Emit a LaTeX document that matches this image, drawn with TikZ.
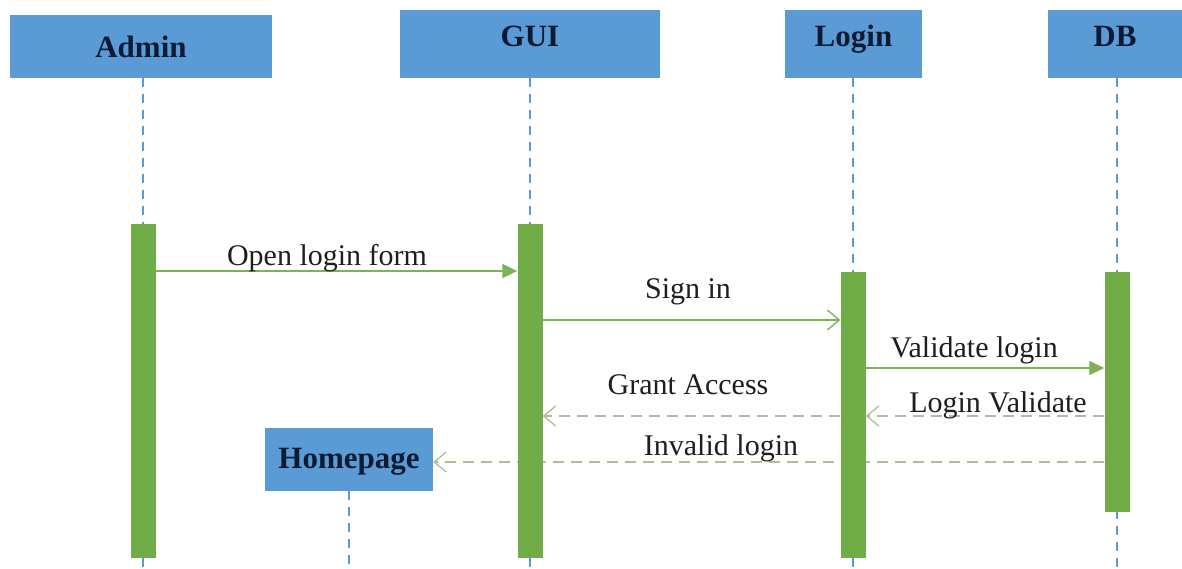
\documentclass[tikz,border=0pt]{standalone}
\usepackage{fontspec}
\setmainfont{Liberation Serif}
\usetikzlibrary{arrows.meta}
\definecolor{boxblue}{HTML}{5B9BD5}
\definecolor{bargreen}{HTML}{70AD47}
\definecolor{msggreen}{HTML}{7DB356}
\definecolor{dashgreen}{HTML}{ADBF9A}
\definecolor{navy}{HTML}{0E1A33}
\definecolor{lbltext}{HTML}{1E1E1E}
\pgfdeclarelayer{back}
\pgfdeclarelayer{mid}
\pgfsetlayers{back,mid,main}
\begin{document}
\begin{tikzpicture}[x=1pt,y=-1pt,
  hdr/.style={fill=boxblue, draw=none, inner sep=0pt, text=navy,
    font=\fontsize{31}{31}\selectfont\bfseries},
  actbar/.style={fill=bargreen, draw=none, inner sep=0pt, minimum width=25},
  life/.style={draw=boxblue, line width=1.6pt, dash pattern=on 9pt off 7pt},
  lbl/.style={inner sep=0pt, anchor=base, text=lbltext, font=\fontsize{30}{30}\selectfont},
  callmsg/.style={draw=msggreen, line width=1.6pt},
  retmsg/.style={draw=dashgreen, line width=1.6pt, dash pattern=on 11pt off 7pt},
  filledtip/.style={-{Triangle[length=15pt,width=14pt]}},
  opentip/.style={-{Straight Barb[length=12pt,width=20pt,line width=1.3pt]}}
]
\useasboundingbox (0,0) rectangle (1182,568);

% header boxes
\node[hdr, minimum width=262, minimum height=63, text height=22pt, text depth=1pt] (admin) at (141,46.5) {Admin};
\node[hdr, minimum width=260, minimum height=68, text height=22pt, text depth=17pt] (gui) at (530,44) {GUI};
\node[hdr, minimum width=137, minimum height=68, text height=22pt, text depth=17pt] (login) at (853.5,44) {Login};
\node[hdr, minimum width=134, minimum height=68, text height=22pt, text depth=17pt] (db) at (1115,44) {DB};
\node[hdr, minimum width=168, minimum height=63, text height=22pt, text depth=5pt] (home) at (349,459.5) {Homepage};

% activation bars
\node[actbar, minimum height=334] (abar) at (143,391) {};
\node[actbar, minimum height=334] (gbar) at (530,391) {};
\node[actbar, minimum height=286] (lbar) at (853,415) {};
\node[actbar, minimum height=240] (dbar) at (1117,392) {};

% lifeline ends
\coordinate (aend) at (143,568);
\coordinate (gend) at (530,568);
\coordinate (lend) at (853,568);
\coordinate (dend) at (1117,568);
\coordinate (hend) at (349,568);

\begin{pgfonlayer}{back}
\draw[life] (admin.south -| abar) -- (aend);
\draw[life] (gui.south -| gbar) -- (gend);
\draw[life] (login.south -| lbar) -- (lend);
\draw[life] (db.south -| dbar) -- (dend);
\draw[life] (home.south) -- (hend);
\end{pgfonlayer}

\begin{pgfonlayer}{mid}
\draw[retmsg, opentip] (dbar.west |- 0,462) -- (home.east |- 0,462);
\end{pgfonlayer}

% messages
\draw[callmsg, filledtip] (abar.east |- 0,271) -- (gbar.west |- 0,271);
\draw[callmsg, opentip] (gbar.east |- 0,320) -- (lbar.west |- 0,320);
\draw[callmsg, filledtip] (lbar.east |- 0,368) -- (dbar.west |- 0,368);
\draw[retmsg, opentip] (dbar.west |- 0,416) -- (lbar.east |- 0,416);
\draw[retmsg, opentip] (lbar.west |- 0,416) -- (gbar.east |- 0,416);

% labels
\node[lbl] (t1) at (327,265) {Open login form};
\node[lbl] (t2) at (688,298) {Sign in};
\node[lbl] (t3) at (974,357) {Validate login};
\node[lbl] (t4) at (688,394) {Grant Access};
\node[lbl] (t5) at (998,412) {Login Validate};
\node[lbl] (t6) at (721,455) {Invalid login};
\end{tikzpicture}
\end{document}
